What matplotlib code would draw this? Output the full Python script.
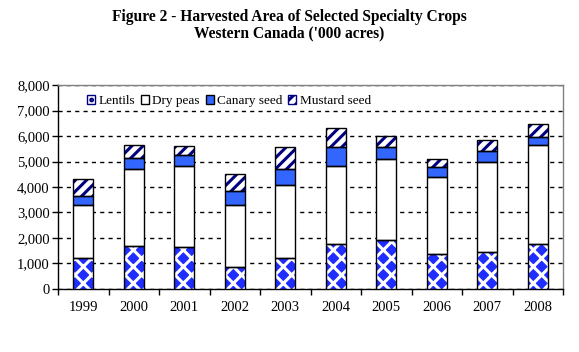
import numpy as np
import matplotlib.pyplot as plt
from matplotlib.patches import Patch
from matplotlib.ticker import FuncFormatter, MultipleLocator

# harvested area, '000 acres
years = ["1999", "2000", "2001", "2002", "2003", "2004", "2005", "2006", "2007", "2008"]
lentils = [1200, 1690, 1630, 850, 1200, 1750, 1910, 1370, 1450, 1750]
dry_peas = [2080, 3000, 3180, 2430, 2860, 3060, 3180, 3010, 3520, 3880]
canary_seed = [380, 430, 430, 550, 630, 770, 470, 390, 430, 350]
mustard_seed = [650, 510, 350, 670, 860, 720, 430, 310, 430, 480]

plt.rcParams['font.family'] = ['Liberation Serif', 'DejaVu Serif']
plt.rcParams['hatch.linewidth'] = 2.2

fig = plt.figure(figsize=(5.79, 3.52), dpi=100)
ax = fig.add_axes([0.1002, 0.179, 0.8722, 0.5795])

x = np.arange(len(years))
w = 0.4
bottom = np.zeros(len(years))

# (values, label, face, hatch, hatch colour)
series = [
    (lentils, "Lentils", "#1f2dff", "xx", "white"),
    (dry_peas, "Dry peas", "white", "", "white"),
    (canary_seed, "Canary seed", "#3366ff", "", "#3366ff"),
    (mustard_seed, "Mustard seed", "white", "///", "#000080"),
]

handles = []
for vals, label, face, hatch, hcol in series:
    vals = np.array(vals)
    ax.bar(x, vals, w, bottom=bottom, color=face, edgecolor=hcol, hatch=hatch,
           linewidth=0, zorder=3)
    # black outline on top of the pattern
    ax.bar(x, vals, w, bottom=bottom, facecolor="none", edgecolor="black",
           linewidth=1.0, zorder=4)
    bottom += vals
    if label == "Lentils":
        handles.append(Patch(facecolor="white", edgecolor="#000080", hatch="..",
                             linewidth=1.0, label=label))
    else:
        ecol = "#000080" if hatch else "black"
        handles.append(Patch(facecolor=face, edgecolor=ecol, hatch=hatch,
                             linewidth=1.0, label=label))

ax.set_xlim(-0.5, len(years) - 0.5)
ax.set_ylim(0, 8000)
ax.yaxis.set_major_locator(MultipleLocator(1000))
ax.yaxis.set_major_formatter(FuncFormatter(lambda v, p: f"{int(v):,}"))
ax.set_xticks(x)
ax.set_xticklabels(years)
ax.set_xticks(np.arange(-0.5, len(years)), minor=True)
ax.tick_params(axis="x", which="major", length=0, pad=9, labelsize=10.5)
ax.tick_params(axis="x", which="minor", length=4, width=1, direction="out")
ax.tick_params(axis="y", length=4, width=1, direction="out", pad=2, labelsize=10.5)

ax.grid(axis="y", color="black", linestyle=(0, (3, 3)), linewidth=1, zorder=1)
ax.set_axisbelow(True)

for s in ["left", "bottom"]:
    ax.spines[s].set_color("black")
    ax.spines[s].set_linewidth(1)
for s in ["top", "right"]:
    ax.spines[s].set_color("#808080")
    ax.spines[s].set_linewidth(1)

ax.legend(handles=handles, loc="center left", bbox_to_anchor=(0.045, 0.92), ncol=4,
          frameon=False, fontsize=9.5, handlelength=0.6, handleheight=0.6,
          handletextpad=0.25, columnspacing=0.45, borderpad=0)

fig.text(0.5, 0.953, "Figure 2 - Harvested Area of Selected Specialty Crops",
         ha="center", va="center", fontsize=11.2, fontweight="bold")
fig.text(0.5, 0.905, "Western Canada ('000 acres)",
         ha="center", va="center", fontsize=11.2, fontweight="bold")

fig.savefig("out.png", dpi=100)
